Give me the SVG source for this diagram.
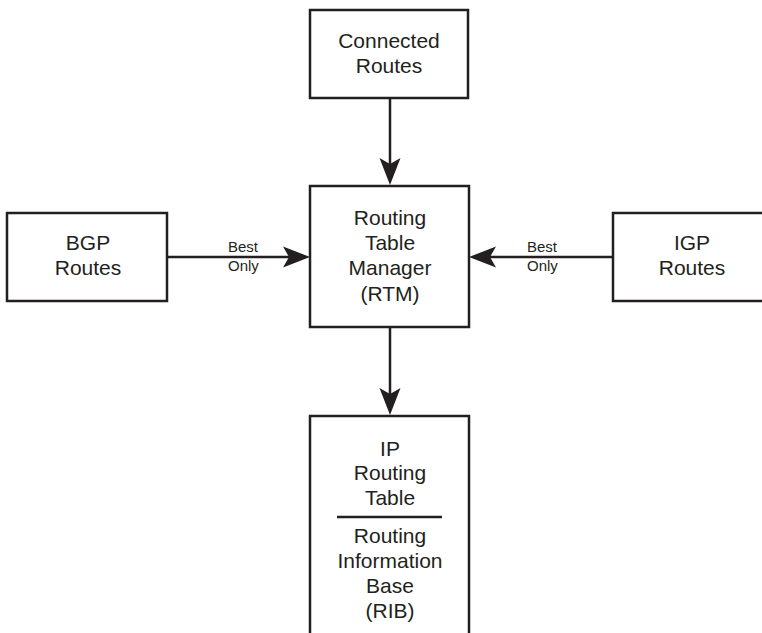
<svg xmlns="http://www.w3.org/2000/svg" width="762" height="633" viewBox="0 0 762 633">
<style>
.box{fill:#fff;stroke:#231f20;stroke-width:2.5}
.t{font-family:"Liberation Sans",Arial,sans-serif;font-size:21px;fill:#231f20;text-anchor:middle}
.s{font-family:"Liberation Sans",Arial,sans-serif;font-size:15px;fill:#231f20}
.c{stroke:#231f20;stroke-width:2.5;fill:none}
</style>
<defs>
<marker id="ah" markerUnits="userSpaceOnUse" markerWidth="40" markerHeight="30" viewBox="-10 -15 40 30" refX="0" refY="0" orient="auto" overflow="visible">
<path d="M21,0 L-6,-10.5 L0,0 L-6,10.5 Z" fill="#231f20"/>
</marker>
</defs>
<rect width="762" height="633" fill="#fff"/>
<g id="connectors">
<line class="c" x1="390" y1="98" x2="390" y2="164" marker-end="url(#ah)"/>
<line class="c" x1="167" y1="257" x2="289" y2="257" marker-end="url(#ah)"/>
<line class="c" x1="613" y1="257" x2="490" y2="257" marker-end="url(#ah)"/>
<line class="c" x1="390" y1="327" x2="390" y2="394" marker-end="url(#ah)"/>
<text class="s" x="228" y="252">Best</text>
<text class="s" x="228" y="271">Only</text>
<text class="s" x="527" y="252">Best</text>
<text class="s" x="527" y="271">Only</text>
</g>
<g id="connected">
<rect class="box" x="310" y="10" width="158" height="88"/>
<text class="t" x="389" y="48">Connected</text>
<text class="t" x="389" y="73">Routes</text>
</g>
<g id="rtm">
<rect class="box" x="310" y="186" width="159" height="141"/>
<text class="t" x="390" y="225">Routing</text>
<text class="t" x="390" y="250">Table</text>
<text class="t" x="390" y="275">Manager</text>
<text class="t" x="390" y="301">(RTM)</text>
</g>
<g id="bgp">
<rect class="box" x="7" y="213" width="160" height="88"/>
<text class="t" x="88" y="250">BGP</text>
<text class="t" x="88" y="275">Routes</text>
</g>
<g id="igp">
<rect class="box" x="613" y="213" width="160" height="88"/>
<text class="t" x="692" y="250">IGP</text>
<text class="t" x="692" y="275">Routes</text>
</g>
<g id="rib">
<path class="box" d="M310,645 V416 H469 V645"/>
<text class="t" x="390" y="456">IP</text>
<text class="t" x="390" y="480">Routing</text>
<text class="t" x="390" y="505">Table</text>
<line x1="337" y1="517" x2="442" y2="517" stroke="#231f20" stroke-width="2.5"/>
<text class="t" x="390" y="543">Routing</text>
<text class="t" x="390" y="568">Information</text>
<text class="t" x="390" y="593">Base</text>
<text class="t" x="390" y="618">(RIB)</text>
</g>
</svg>
